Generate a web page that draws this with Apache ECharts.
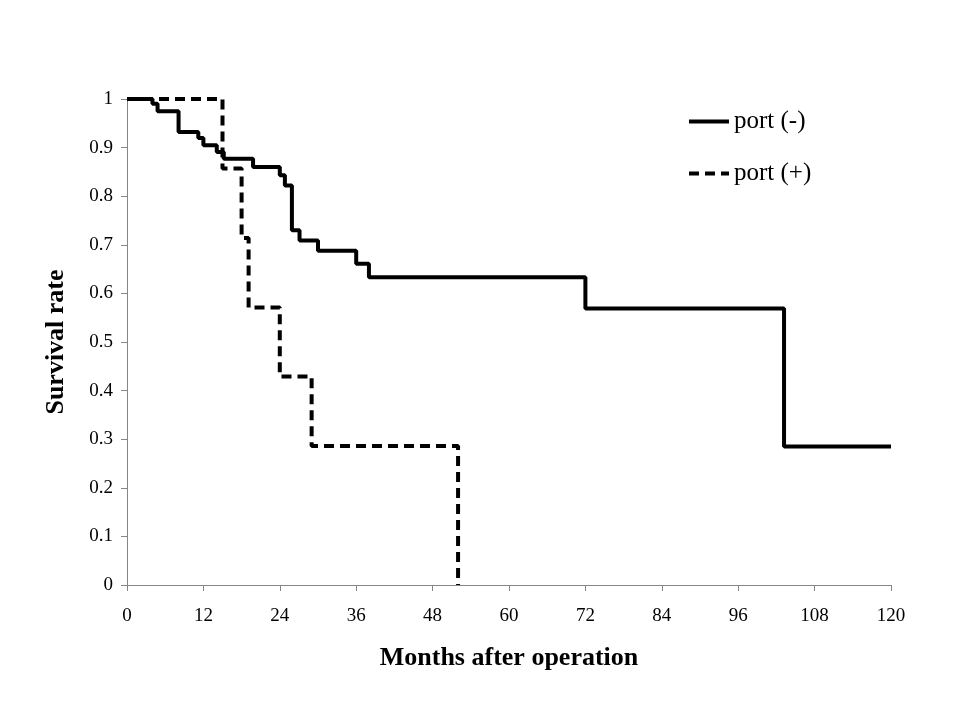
<!DOCTYPE html>
<html>
<head>
<meta charset="utf-8">
<script src="https://cdn.jsdelivr.net/npm/echarts@6/dist/echarts.min.js"></script>
<style>html,body{margin:0;padding:0;background:#fff}#c{width:960px;height:720px}</style>
</head>
<body>
<div id="c"></div>
<script>
// Kaplan-Meier step data: [month, survival]
var portNegMonths = [0, 4, 4.8, 8.1, 11.2, 12.0, 14.1, 15.2, 19.8, 24.0, 24.8, 25.9, 27.1, 30.0, 36.0, 38.0, 72.0, 103.2, 120];
var portNegSurv   = [1, 0.99, 0.975, 0.932, 0.92, 0.905, 0.891, 0.877, 0.86, 0.843, 0.822, 0.73, 0.709, 0.688, 0.661, 0.633, 0.569, 0.285, 0.285];
var portPosMonths = [0, 15.0, 18.0, 19.1, 24.0, 29.0, 52.0];
var portPosSurv   = [1, 0.857, 0.714, 0.571, 0.429, 0.286, 0];
var seriesNames = ['port (-)', 'port (+)'];
var xTitle = 'Months after operation';
var yTitle = 'Survival rate';

function pairs(xs, ys) { return xs.map(function (x, i) { return [x, ys[i]]; }); }

var chart = echarts.init(document.getElementById('c'), null, { renderer: 'canvas' });
var serif = '"Liberation Serif", "Times New Roman", serif';
var axisColor = '#868686';
chart.setOption({
  animation: false,
  backgroundColor: '#ffffff',
  textStyle: { fontFamily: serif, color: '#000' },
  grid: { left: 127, right: 69, top: 99, bottom: 135, containLabel: false },
  legend: {
    orient: 'vertical',
    left: 682,
    top: 104,
    itemWidth: 40,
    itemHeight: 22,
    itemGap: 27,
    itemStyle: { opacity: 0 },
    lineStyle: { width: 4 },
    textStyle: { fontFamily: serif, fontSize: 25, color: '#000' },
    data: seriesNames
  },
  xAxis: {
    type: 'value', min: 0, max: 120, interval: 12,
    name: xTitle, nameLocation: 'middle', nameGap: 60,
    nameTextStyle: { fontFamily: serif, fontSize: 26, fontWeight: 'bold', color: '#000' },
    axisLine: { show: true, lineStyle: { color: axisColor, width: 1 } },
    axisTick: { show: true, inside: false, length: 6, lineStyle: { color: axisColor } },
    axisLabel: { fontFamily: serif, fontSize: 19, color: '#000', margin: 22 },
    splitLine: { show: false }
  },
  yAxis: {
    type: 'value', min: 0, max: 1, interval: 0.1,
    name: yTitle, nameLocation: 'middle', nameGap: 58, nameRotate: 90,
    nameTextStyle: { fontFamily: serif, fontSize: 26, fontWeight: 'bold', color: '#000' },
    axisLine: { show: true, lineStyle: { color: axisColor, width: 1 } },
    axisTick: { show: true, inside: false, length: 6, lineStyle: { color: axisColor } },
    axisLabel: { fontFamily: serif, fontSize: 19, color: '#000', margin: 14 },
    splitLine: { show: false }
  },
  series: [
    {
      name: seriesNames[0], type: 'line', step: 'end', symbol: 'none',
      data: pairs(portNegMonths, portNegSurv),
      lineStyle: { color: '#000', width: 4, type: 'solid' },
      itemStyle: { color: '#000' }
    },
    {
      name: seriesNames[1], type: 'line', step: 'end', symbol: 'none',
      data: pairs(portPosMonths, portPosSurv),
      lineStyle: { color: '#000', width: 4, type: [10, 6], cap: 'butt' },
      itemStyle: { color: '#000' }
    }
  ]
});
</script>
</body>
</html>
